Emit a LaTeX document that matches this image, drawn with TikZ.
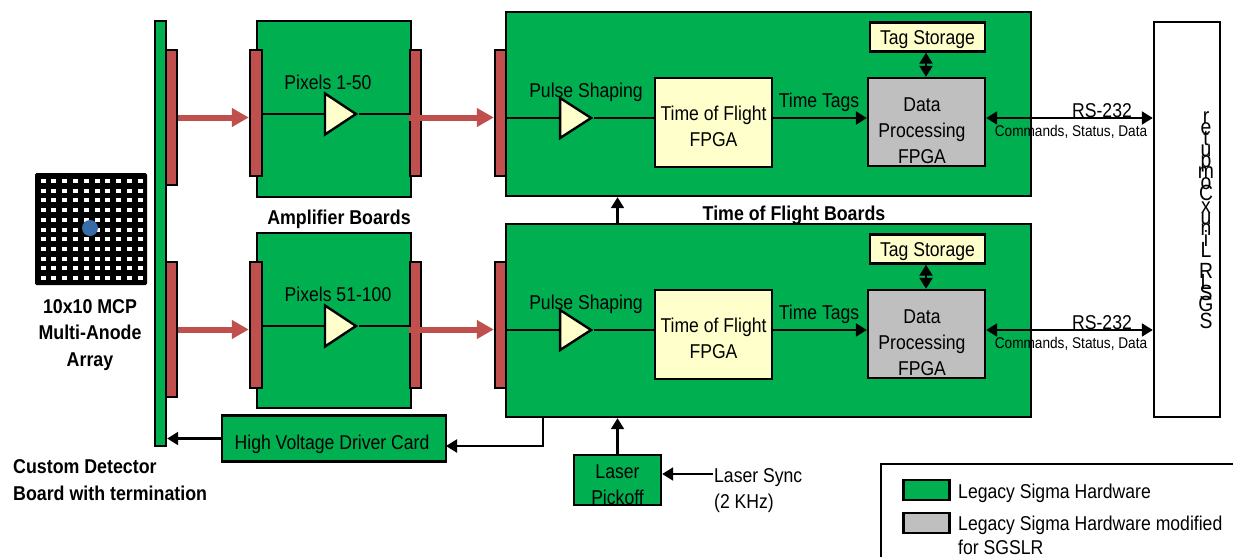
\documentclass[tikz,border=0pt]{standalone}
\usepackage{fontspec}
\setmainfont[FakeStretch=0.88,BoldFeatures={FakeStretch=0.89}]{Liberation Sans}
\usetikzlibrary{arrows.meta,shapes.geometric}
\definecolor{sigmagreen}{HTML}{00B050}
\definecolor{padred}{HTML}{C0504D}
\definecolor{chipyellow}{HTML}{FFFFCC}
\definecolor{modgray}{HTML}{BFBFBF}
\definecolor{spotblue}{HTML}{376CA8}
\tikzset{
  lbl/.style={font=\fontsize{20}{26}\selectfont, align=center, inner sep=0pt},
  lblb/.style={font=\fontsize{20}{26.5}\selectfont\bfseries, align=center, inner sep=0pt},
  lbls/.style={font=\fontsize{15.5}{18}\selectfont, inner sep=0pt},
  blk/.style={draw=black, line width=2.4pt, minimum width=#1, inner sep=0pt},
  board/.style={blk=#1, fill=sigmagreen},
  chip/.style={blk=#1, fill=chipyellow},
  modchip/.style={blk=#1, fill=modgray},
  pad/.style={blk=11, fill=padred},
  amp/.style={draw=black, line width=2.4pt, fill=chipyellow, isosceles triangle,
    isosceles triangle stretches, shape border rotate=0, inner sep=0pt,
    minimum width=#1, minimum height=31},
  wire/.style={line width=2.2pt},
  sig/.style={wire, -{Triangle[length=11pt,width=13pt]}},
  sigs/.style={wire, {Triangle[length=11pt,width=13pt]}-{Triangle[length=11pt,width=13pt]}},
  feed/.style={padred, line width=6pt, -{Triangle[length=17pt,width=18pt]}},
}

\begin{document}
\begin{tikzpicture}[x=1pt, y=-1pt]
  \useasboundingbox (0,0) rectangle (1233,557);

  % anode array
  \node[fill=black, rounded corners=1.5pt, minimum width=112, minimum height=112, inner sep=0pt] (mcp) at (91,229) {};
  \foreach \col in {0,...,9}
    \foreach \row in {0,...,10}
      \fill[white] ({43+10.8*\col-2.5},{181+9.7*\row-2}) rectangle +(5,4);
  \node[circle, fill=spotblue, minimum width=16, minimum height=15, inner sep=0pt] (spot) at (90,228) {};
  \node[lblb] (mcplbl) at (90,335) {10x10 MCP\\Multi-Anode\\Array};

  % detector board
  \node[board=11, minimum height=425] (det) at (160.5,233.5) {};
  \node[lblb, align=left, anchor=west] (detlbl) at (13,480) {Custom Detector\\Board with termination};

  % boards
  \node[board=154, minimum height=176] (ampA) at (334,109) {};
  \node[board=154, minimum height=175] (ampB) at (334,320.5) {};
  \node[board=525, minimum height=184] (tofA) at (768.5,104) {};
  \node[board=525, minimum height=193] (tofB) at (768.5,320.5) {};
  \node[lblb] (amplbl) at (339,219) {Amplifier Boards};
  \node[lblb] (toflbl) at (794,215) {Time of Flight Boards};
  \node[lbl] (pixA) at (328,82) {Pixels 1-50};
  \node[lbl] (pixB) at (338,294) {Pixels 51-100};

  % output box
  \node[blk=66, minimum height=395, fill=white] (sgslr) at (1187,219.5) {};
  \node[font=\fontsize{22}{11}\selectfont, text width=30, align=center, inner sep=0pt] (sgslrlbl) at (1206,220)
    {\lineskiplimit=-30pt\relax r\\e\\t\\u\\p\\m\\o\\C\\[2pt]x\\u\\n\\i\\L\\[10pt]R\\L\\S\\G\\S};

  % channels
  \foreach \n/\dy in {A/0,B/212} {
    \begin{scope}[yshift=-\dy pt]
      \node[pad, minimum height=135] (detpad\n) at (171.5,117.5) {};
      \node[pad, minimum width=12, minimum height=126] (ampin\n) at (256,113) {};
      \node[pad, minimum height=126] (ampout\n) at (415.5,113) {};
      \node[pad, minimum height=126] (tofin\n) at (500.5,113) {};
      \node[amp=41] (ampt\n) at (336,114) {};
      \draw[wire] (ampin\n.east |- ampt\n.lower side) -- (ampt\n.lower side);
      \draw[wire] (ampt\n.apex) -- (ampout\n.west |- ampt\n.apex);
      \draw[feed] (detpad\n.east) -- (ampin\n.west |- detpad\n.east);
      \draw[feed] (ampout\n.west |- detpad\n.east) -- (tofin\n.west |- detpad\n.east);

      \node[amp=40] (shape\n) at (571,118) {};
      \node[lbl] (shapelbl\n) at (586,92) {Pulse Shaping};
      \node[chip=117, minimum height=89] (fpga\n) at (713.5,122.5) {};
      \node[lbl] (fpgatxt\n) at (713.5,126) {Time of Flight\\FPGA};
      \node[modchip=117, minimum height=88] (data\n) at (926.5,122) {};
      \node[lbl] (datatxt\n) at (922,130.5) {Data\\Processing\\FPGA};
      \node[chip=115, minimum height=29] (tag\n) at (927.5,37) {};
      \node[lbl] (tagtxt\n) at (927.5,40) {Tag Storage};
      \node[lbl] (tagslbl\n) at (819,102) {Time Tags};
      \node[lbl] (rslbl\n) at (1102,111) {RS-232};
      \node[lbls] (cmdlbl\n) at (1071,132) {Commands, Status, Data};
      \draw[wire] (tofin\n.east |- shape\n.lower side) -- (shape\n.lower side);
      \draw[wire] (shape\n.apex) -- (fpga\n.west |- shape\n.apex);
      \draw[sig] (fpga\n.east |- shape\n.apex) -- (data\n.west |- shape\n.apex);
      \draw[sigs] (tag\n.south -| 926,0) -- (data\n.north -| 926,0);
      \draw[sigs] (data\n.east |- shape\n.apex) -- (sgslr.west |- shape\n.apex);
    \end{scope}
  }

  % laser and high voltage
  \node[board=224, minimum height=46] (hv) at (334,438.5) {};
  \node[lbl] (hvtxt) at (332,444.5) {High Voltage Driver Card};
  \node[board=87, minimum height=50] (pick) at (617.5,480) {};
  \node[lbl] (picktxt) at (617.5,485) {Laser\\Pickoff};
  \node[lbl, align=left, anchor=west] (sync) at (714,491) {Laser Sync\\(2 KHz)};
  \coordinate (hvtap) at (543,417);
  \coordinate (hvin) at (446,446);
  \coordinate (syncend) at (713,474);
  \draw[sig] (pick.north) -- (tofB.south -| pick.north);
  \draw[sig] (tofB.north -| pick.north) -- (tofA.south -| pick.north);
  \draw[sig] (hvtap) |- (hvin);
  \draw[sig] (hv.west) -- (det.east |- hv.west);
  \draw[sig] (syncend) -- (pick.east |- syncend);

  % legend
  \draw[line width=2.4pt] (881,557) -- (881,464) -- (1233,464);
  \node[board=46, minimum height=20] (keyA) at (926.5,490) {};
  \node[blk=46, minimum height=20, fill=modgray] (keyB) at (926.5,523) {};
  \node[lbl, anchor=west] (keyAlbl) at (958,493) {Legacy Sigma Hardware};
  \node[lbl, align=left, anchor=west] (keyBlbl) at (958,535) {Legacy Sigma Hardware modified\\[-2pt]for SGSLR};
\end{tikzpicture}
\end{document}
